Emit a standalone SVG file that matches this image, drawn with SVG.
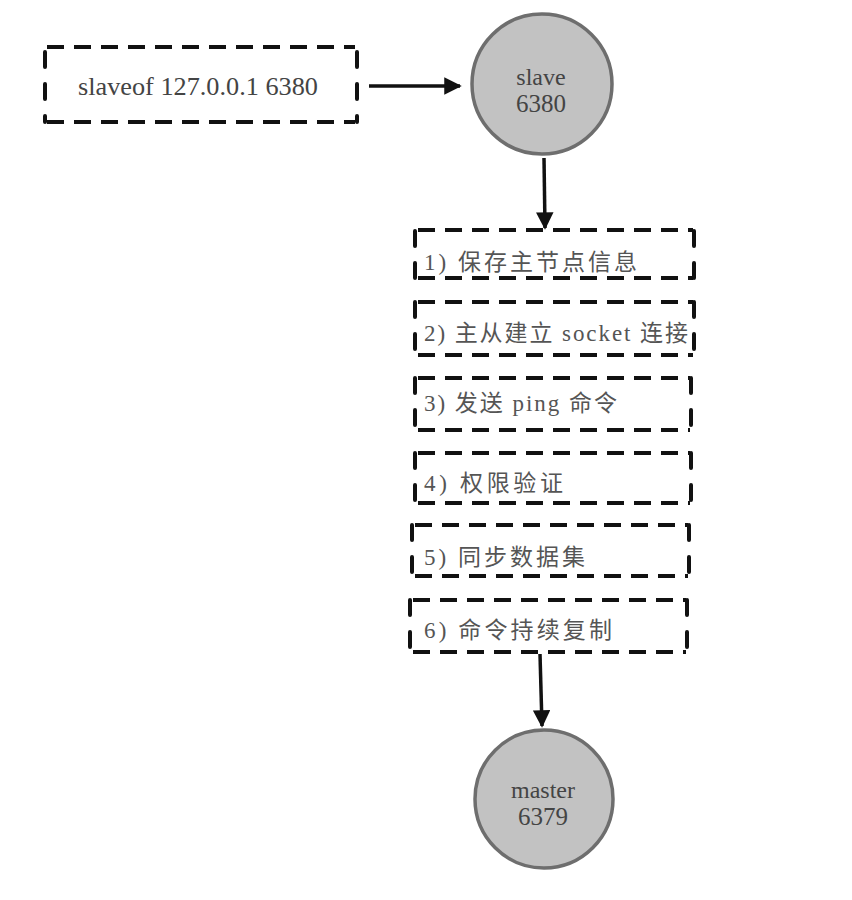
<svg xmlns="http://www.w3.org/2000/svg" width="852" height="900" viewBox="0 0 852 900">
<style>
.h{stroke:#111;stroke-width:4;fill:none;stroke-dasharray:17 10;stroke-linecap:butt}
.v{stroke:#111;stroke-width:4;fill:none;stroke-dasharray:15 17;stroke-linecap:round}
.circ{fill:#c2c2c2;stroke:#6e6e6e;stroke-width:3.5}
.t{font-family:"Liberation Serif","Noto Sans CJK SC",serif;fill:#444}
.cj{font-family:"Liberation Serif","Noto Sans CJK SC",serif;fill:#555;font-size:23px}
.con{stroke:#111;stroke-width:3.5;fill:none}
</style>
<defs>
<marker id="ah" viewBox="0 0 10 10" refX="9" refY="5" markerWidth="5" markerHeight="5" markerUnits="strokeWidth" orient="auto">
<path d="M0,0 L10,5 L0,10 Z" fill="#111"/>
</marker>
</defs>
<rect width="852" height="900" fill="#fff"/>

<g id="cmd">
<path class="h" d="M47,47 H355 M47,122 H355"/>
<path class="v" d="M45,52 V122 M357,52 V122"/>
<text class="t" x="198" y="95" font-size="25" text-anchor="middle" textLength="240" lengthAdjust="spacingAndGlyphs">slaveof 127.0.0.1 6380</text>
</g>

<g id="slave">
<circle class="circ" cx="542" cy="84" r="70"/>
<text class="t" x="541" y="85" font-size="24" text-anchor="middle">slave</text>
<text class="t" x="541" y="112" font-size="25" text-anchor="middle">6380</text>
</g>

<g id="step1">
<path class="h" d="M418,230 H693 M418,278 H693"/>
<path class="v" d="M415,231 V279 M694,231 V279"/>
<text class="cj" x="424" y="270" textLength="213" lengthAdjust="spacing">1) 保存主节点信息</text>
</g>
<g id="step2">
<path class="h" d="M418,302 H693 M418,355 H693"/>
<path class="v" d="M415,302 V355 M694,302 V355"/>
<text class="cj" x="424" y="341" textLength="264" lengthAdjust="spacing">2) 主从建立 socket 连接</text>
</g>
<g id="step3">
<path class="h" d="M418,378 H690 M418,430 H690"/>
<path class="v" d="M415,378 V431 M691,378 V431"/>
<text class="cj" x="424" y="411" textLength="193" lengthAdjust="spacing">3) 发送 ping 命令</text>
</g>
<g id="step4">
<path class="h" d="M418,453 H690 M418,503 H690"/>
<path class="v" d="M415,453 V504 M691,453 V504"/>
<text class="cj" x="424" y="491" textLength="139" lengthAdjust="spacing">4) 权限验证</text>
</g>
<g id="step5">
<path class="h" d="M415,525 H688 M415,576 H688"/>
<path class="v" d="M412,525 V577 M689,525 V577"/>
<text class="cj" x="424" y="565" textLength="161" lengthAdjust="spacing">5) 同步数据集</text>
</g>
<g id="step6">
<path class="h" d="M413,600 H686 M413,652 H686"/>
<path class="v" d="M410,600 V653 M687,600 V653"/>
<text class="cj" x="424" y="638" textLength="188" lengthAdjust="spacing">6) 命令持续复制</text>
</g>

<g id="master">
<circle class="circ" cx="544" cy="799" r="69"/>
<text class="t" x="543" y="798" font-size="24" text-anchor="middle">master</text>
<text class="t" x="543" y="825" font-size="25" text-anchor="middle">6379</text>
</g>

<g id="connectors">
<line class="con" x1="369" y1="86" x2="460" y2="86" marker-end="url(#ah)"/>
<line class="con" x1="544" y1="158" x2="545" y2="228" marker-end="url(#ah)"/>
<line class="con" x1="540" y1="654" x2="542" y2="726" marker-end="url(#ah)"/>
</g>
</svg>
